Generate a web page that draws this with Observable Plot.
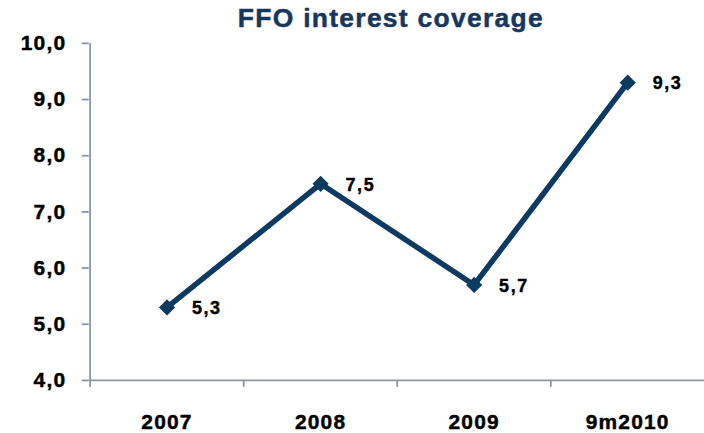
<!DOCTYPE html>
<html>
<head>
<meta charset="utf-8">
<script src="https://cdn.jsdelivr.net/npm/d3@7"></script>
<script src="https://cdn.jsdelivr.net/npm/@observablehq/plot@0.6"></script>
<style>
  html, body { margin: 0; padding: 0; background: white; overflow: hidden; }
</style>
</head>
<body>
<div id="chart"></div>
<script>
const title = "FFO interest coverage";
const categories = ["2007", "2008", "2009", "9m2010"];
const values = [5.3, 7.5, 5.7, 9.3];
const yTicks = [4, 5, 6, 7, 8, 9, 10];

const data = categories.map((c, i) => ({cat: c, v: values[i]}));
const fmt = d => d.toFixed(1).replace(".", ",");

const W = 706, H = 433, mL = 89, mR = 0, mT = 43, mB = 52;
const half = (W - mL - mR) / categories.length / 2;
const lineColor = "#0d3a61";
const titleColor = "#17375e";
const axisColor = "#8c95a3";

const chart = Plot.plot({
  width: W, height: H,
  marginLeft: mL, marginRight: mR, marginTop: mT, marginBottom: mB,
  style: {fontFamily: "'Liberation Sans', Arial, sans-serif", background: "white", overflow: "visible", color: "black"},
  x: {type: "point", domain: categories, padding: 0.5, axis: null},
  y: {domain: [4, 10], axis: null},
  marks: [
    Plot.ruleY([4], {stroke: axisColor, strokeWidth: 1.8}),
    Plot.ruleX([categories[0]], {y1: 4, y2: 10, dx: -half, stroke: axisColor, strokeWidth: 1.8}),
    Plot.axisY({ticks: yTicks, tickSize: 7, tickPadding: 16, tickFormat: fmt, label: null,
      stroke: axisColor, strokeWidth: 1.8, fill: "black", fontSize: 21, fontWeight: "bold"}),
    Plot.axisX({ticks: categories, tickSize: 7, dx: -half, tickFormat: () => "", label: null,
      stroke: axisColor, strokeWidth: 1.8}),
    Plot.axisX({ticks: categories, tickSize: 0, tickPadding: 34, label: null,
      fill: "black", fontSize: 21, fontWeight: "bold"}),
    Plot.line(data, {x: "cat", y: "v", stroke: lineColor, strokeWidth: 5.5, strokeLinejoin: "miter"}),
    Plot.dot(data, {x: "cat", y: "v", symbol: "diamond2", r: 7.3, fill: lineColor, stroke: null}),
    Plot.text(data, {x: "cat", y: "v", text: d => fmt(d.v), dx: 25, dy: 1, textAnchor: "start",
      fontSize: 18, fontWeight: "bold", fill: "black"}),
    Plot.text([title], {frameAnchor: "top", lineAnchor: "middle", dx: -6, dy: -25, fontSize: 26.5, fontWeight: "bold", fill: titleColor})
  ]
});

const svg = d3.select(chart);
svg.selectAll("g[aria-label='y-axis tick label'] text, g[aria-label='x-axis tick label'] text")
  .style("letter-spacing", "1.2px").style("stroke", "black").style("stroke-width", "0.45px");
svg.selectAll("text").each(function() {
  const t = this.textContent;
  if (t === title) d3.select(this).style("letter-spacing", "1.3px").style("stroke", titleColor).style("stroke-width", "0.5px");
  else if (values.map(fmt).includes(t) && this.closest("g[aria-label='text']"))
    d3.select(this).style("letter-spacing", "1.6px").style("stroke", "black").style("stroke-width", "0.4px");
});
document.getElementById("chart").appendChild(chart);
</script>
</body>
</html>
